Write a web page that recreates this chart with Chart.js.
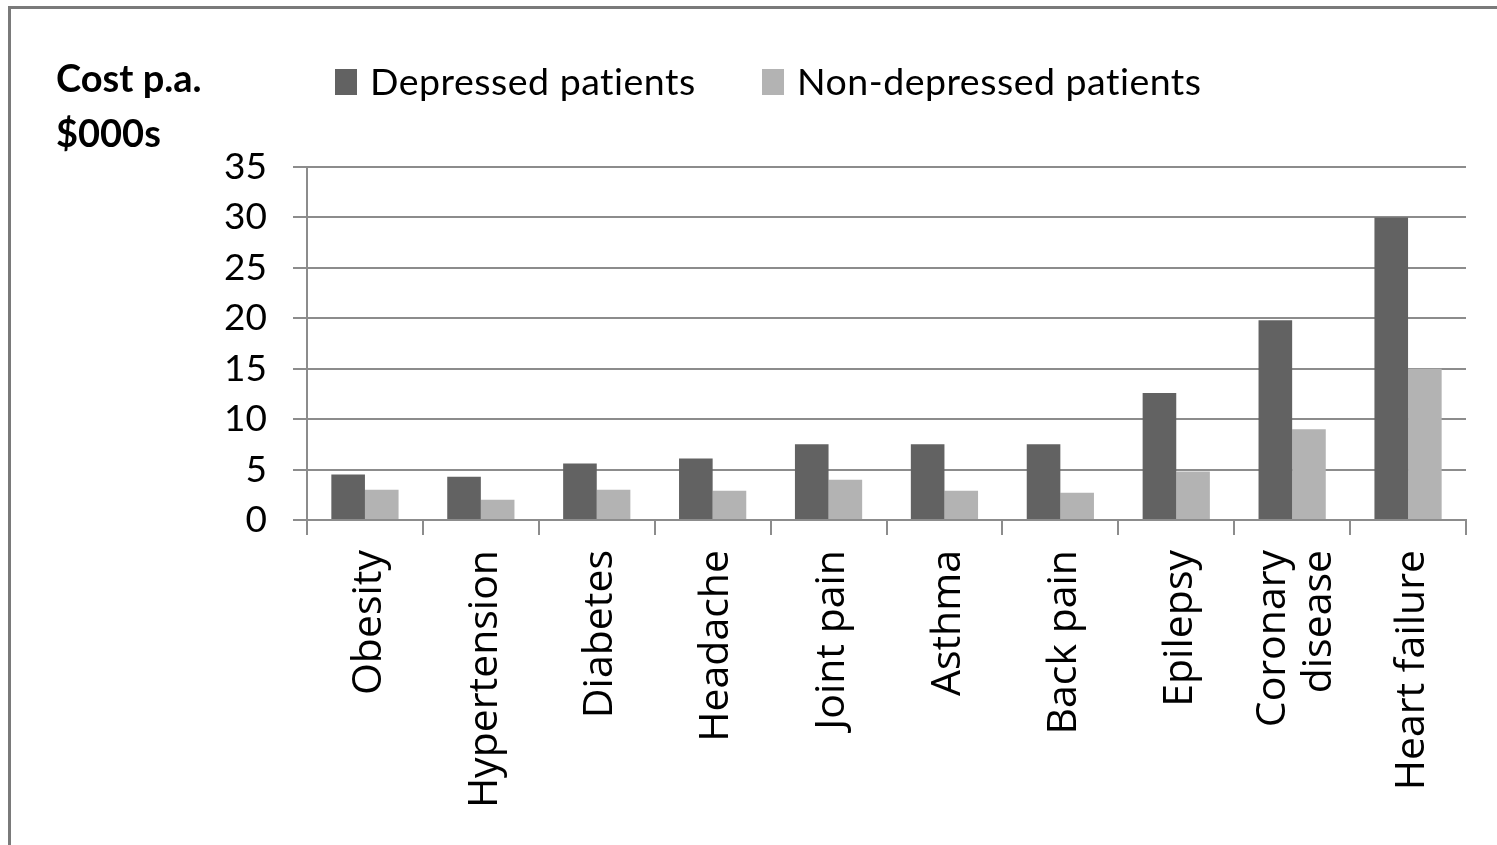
<!DOCTYPE html>
<html>
<head>
<meta charset="utf-8">
<script src="https://cdn.jsdelivr.net/npm/chart.js@4.4.1/dist/chart.umd.min.js"></script>
<style>
  html, body { margin: 0; padding: 0; background: #fff; overflow: hidden; }
  #frame { position: absolute; left: 8px; top: 6px; width: 1600px; height: 900px;
           border-top: 3px solid #7a7a7a; border-left: 3px solid #7a7a7a; }
  #wrap { position: absolute; left: 0; top: 0; width: 1497px; height: 845px; }
</style>
</head>
<body>
<div id="frame"></div>
<div id="wrap"><canvas id="chart-area" width="1497" height="845"></canvas></div>
<script>
// categories and values (cost per year, $000s)
const categories = ['Obesity', 'Hypertension', 'Diabetes', 'Headache', 'Joint pain',
  'Asthma', 'Back pain', 'Epilepsy', ['Coronary', 'disease'], 'Heart failure'];
const depressed = [4.5, 4.3, 5.6, 6.1, 7.5, 7.5, 7.5, 12.6, 19.8, 30];
const nonDepressed = [3.0, 2.0, 3.0, 2.9, 4.0, 2.9, 2.7, 4.8, 9.0, 15];
const seriesNames = ['Depressed patients', 'Non-depressed patients'];
const yTicks = [0, 5, 10, 15, 20, 25, 30, 35];

const gridColor = '#8c8c8c';

// axis title + legend drawn on the canvas
const extras = {
  id: 'extras',
  afterLayout(chart) {
    // Excel centres two-line labels on the tick, Chart.js starts at the tick
    chart.scales.x.getLabelItems().forEach(it => {
      if (Array.isArray(it.label)) {
        it.options.translation[0] -= (it.label.length - 1) * it.font.lineHeight / 2;
      }
    });
  },
  afterDraw(chart) {
    const ctx = chart.ctx;
    ctx.save();
    ctx.fillStyle = '#000';
    ctx.textBaseline = 'alphabetic';
    ctx.textAlign = 'left';
    ctx.font = 'bold 38px Lato';
    ctx.fillText('Cost p.a.', 56, 92);
    ctx.fillText('$000s', 56, 147);

    const boxX = [335, 762];
    ctx.font = '37.5px Lato';
    ctx.letterSpacing = '0.5px';
    chart.data.datasets.forEach((ds, i) => {
      ctx.fillStyle = ds.backgroundColor;
      ctx.fillRect(boxX[i], 69, 22, 26);
      ctx.fillStyle = '#000';
      ctx.fillText(ds.label, boxX[i] + 35, 95);
    });
    ctx.restore();
  }
};

function draw() {
  const ctx = document.getElementById('chart-area').getContext('2d');
  window.myBar = new Chart(ctx, {
    type: 'bar',
    data: {
      labels: categories,
      datasets: [
        { label: seriesNames[0], data: depressed, backgroundColor: '#626262' },
        { label: seriesNames[1], data: nonDepressed, backgroundColor: '#b3b3b3' }
      ]
    },
    options: {
      responsive: false,
      animation: false,
      layout: { padding: { top: 167, right: 31, bottom: 0, left: 0 } },
      datasets: { bar: { categoryPercentage: 0.58, barPercentage: 1.0 } },
      plugins: { legend: { display: false }, tooltip: { enabled: false } },
      scales: {
        x: {
          grid: { offset: true, drawOnChartArea: false, drawTicks: true, tickLength: 15,
                  color: gridColor, lineWidth: 2 },
          border: { color: gridColor, width: 2 },
          ticks: { minRotation: 90, maxRotation: 90, padding: 15, labelOffset: 4, color: '#000',
                   font: { family: 'Open Sans', size: 41, lineHeight: 1.13 } },
          afterFit(s) { s.height = 325; }
        },
        y: {
          min: 0, max: 35,
          afterBuildTicks(s) { s.ticks = yTicks.map(v => ({ value: v })); },
          grid: { color: gridColor, lineWidth: 2, tickLength: 14 },
          border: { color: gridColor, width: 2 },
          ticks: { padding: 26, color: '#000', font: { family: 'Lato', size: 37 } },
          afterFit(s) { s.width = 307; }
        }
      }
    },
    plugins: [extras]
  });
}

Promise.all([
  document.fonts.load('37px Lato'),
  document.fonts.load('bold 38px Lato'),
  document.fonts.load('41px "Open Sans"')
]).then(draw, draw);
</script>
</body>
</html>
